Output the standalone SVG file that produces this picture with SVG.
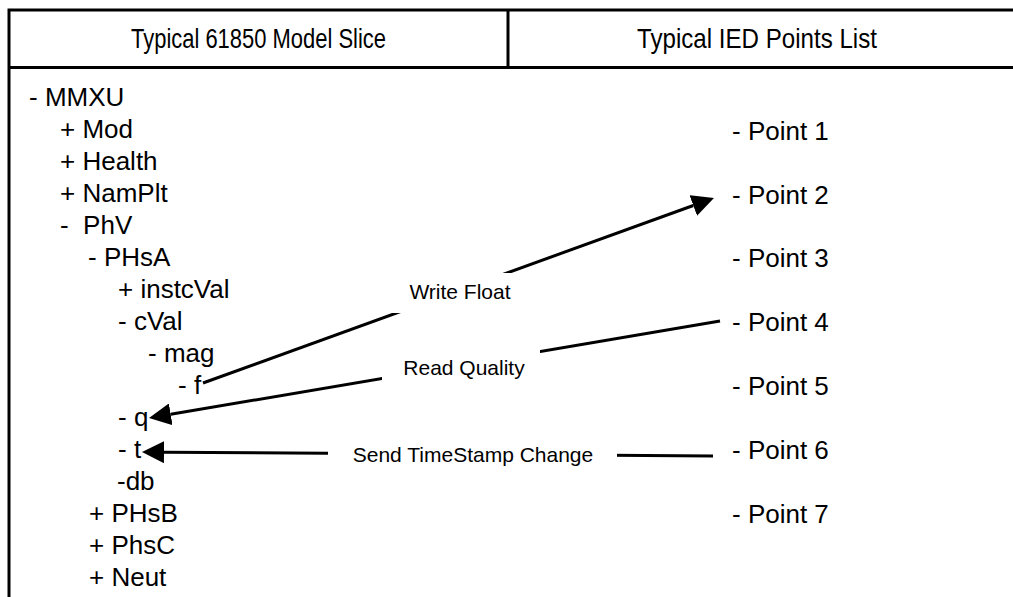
<svg xmlns="http://www.w3.org/2000/svg" width="1013" height="597" viewBox="0 0 1013 597">
  <style>
    .frame { fill: none; stroke: #000; stroke-width: 3; }
    .head { font-family: "Liberation Sans", Arial, sans-serif; font-size: 28px; fill: #000; }
    .item { font-family: "Liberation Sans", Arial, sans-serif; font-size: 26px; fill: #000; white-space: pre; }
    .wire { fill: none; stroke: #000; stroke-width: 3; marker-end: url(#head); }
    .tagbox { fill: #fff; stroke: none; }
    .tag { font-family: "Liberation Sans", Arial, sans-serif; font-size: 21px; fill: #000; text-anchor: middle; }
  </style>
  <defs>
    <marker id="head" markerUnits="userSpaceOnUse" markerWidth="22" markerHeight="22" viewBox="0 0 22 22" refX="0" refY="11" orient="auto">
      <path d="M0,0 L22,11 L0,22 Z" fill="#000"/>
    </marker>
  </defs>

  <rect width="1013" height="597" fill="#fff"/>

  <!-- table frame: outer box, header rule and column divider -->
  <g id="table">
    <rect class="frame" x="9" y="10" width="1030" height="620"/>
    <line class="frame" x1="9" y1="67.5" x2="1013" y2="67.5"/>
    <line class="frame" x1="508" y1="10" x2="508" y2="67.5"/>
    <text class="head" x="131" y="48" textLength="255" lengthAdjust="spacingAndGlyphs">Typical 61850 Model Slice</text>
    <text class="head" x="637" y="48" textLength="240" lengthAdjust="spacingAndGlyphs">Typical IED Points List</text>
  </g>

  <!-- 61850 model tree -->
  <g id="model-tree">
    <text id="n-mmxu" class="item" x="29" y="106">- MMXU</text>
    <text id="n-mod" class="item" x="60" y="138">+ Mod</text>
    <text id="n-health" class="item" x="60" y="170">+ Health</text>
    <text id="n-namplt" class="item" x="60" y="202">+ NamPlt</text>
    <text id="n-phv" class="item" x="60" y="234">-  PhV</text>
    <text id="n-phsa" class="item" x="88" y="266">- PHsA</text>
    <text id="n-instcval" class="item" x="118" y="298">+ instcVal</text>
    <text id="n-cval" class="item" x="118" y="330">- cVal</text>
    <text id="n-mag" class="item" x="148" y="362">- mag</text>
    <text id="n-f" class="item" x="178" y="394">- f</text>
    <text id="n-q" class="item" x="118" y="426">- q</text>
    <text id="n-t" class="item" x="118" y="458">- t</text>
    <text id="n-db" class="item" x="117" y="490">-db</text>
    <text id="n-phsb" class="item" x="89" y="522">+ PHsB</text>
    <text id="n-phsc" class="item" x="89" y="554">+ PhsC</text>
    <text id="n-neut" class="item" x="89" y="586">+ Neut</text>
  </g>

  <!-- IED points list -->
  <g id="points-list">
    <text id="p1" class="item" x="732" y="140">- Point 1</text>
    <text id="p2" class="item" x="732" y="204">- Point 2</text>
    <text id="p3" class="item" x="732" y="267">- Point 3</text>
    <text id="p4" class="item" x="732" y="331">- Point 4</text>
    <text id="p5" class="item" x="732" y="395">- Point 5</text>
    <text id="p6" class="item" x="732" y="459">- Point 6</text>
    <text id="p7" class="item" x="732" y="523">- Point 7</text>
  </g>

  <!-- mappings between model attributes and points -->
  <g id="connectors">
    <line class="wire" x1="203" y1="383" x2="693.3" y2="205.5"/>
    <line class="wire" x1="720" y1="321" x2="170.7" y2="414.3"/>
    <line class="wire" x1="713" y1="456" x2="164" y2="452.2"/>

    <rect class="tagbox" x="381" y="273" width="158" height="40"/>
    <text class="tag" x="460" y="299">Write Float</text>

    <rect class="tagbox" x="382" y="349" width="158" height="40"/>
    <text class="tag" x="464" y="375">Read Quality</text>

    <rect class="tagbox" x="328" y="436" width="289" height="40"/>
    <text class="tag" x="473" y="462">Send TimeStamp Change</text>
  </g>
</svg>
